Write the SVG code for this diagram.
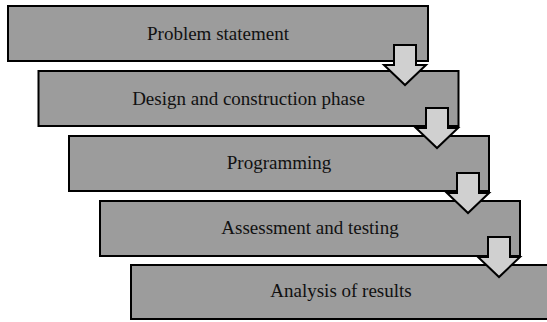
<svg xmlns="http://www.w3.org/2000/svg" width="547" height="322" viewBox="0 0 547 322">
<style>
.box{fill:#9c9c9c;stroke:#000;stroke-width:2}
.lbl{font-family:"Liberation Serif","Times New Roman",serif;font-size:19px;fill:#111;text-anchor:middle}
.arr{fill:#d0d0d0;stroke:#000;stroke-width:2;stroke-linejoin:miter}
</style>
<rect width="547" height="322" fill="#fff"/>
<g id="node1"><rect class="box" x="8" y="6" width="420" height="55"/><text class="lbl" x="218" y="40">Problem statement</text></g>
<g id="node2"><rect class="box" x="38.5" y="71" width="420" height="55"/><text class="lbl" x="248.5" y="104.5">Design and construction phase</text></g>
<g id="node3"><rect class="box" x="69" y="136" width="420" height="55"/><text class="lbl" x="279" y="169">Programming</text></g>
<g id="node4"><rect class="box" x="100" y="201" width="420" height="55"/><text class="lbl" x="310" y="234">Assessment and testing</text></g>
<g id="node5"><rect class="box" x="131" y="265" width="420" height="54"/><text class="lbl" x="341" y="296.5">Analysis of results</text></g>
<g id="connectors">
<path class="arr" d="M394 45H416V65H426L405 85L384 65H394Z"/>
<path class="arr" d="M426 108H448V128H458L437 148L416 128H426Z"/>
<path class="arr" d="M457 173H479V193H489L468 213L447 193H457Z"/>
<path class="arr" d="M488 237H510V257H520L499 277L478 257H488Z"/>
</g>
</svg>
